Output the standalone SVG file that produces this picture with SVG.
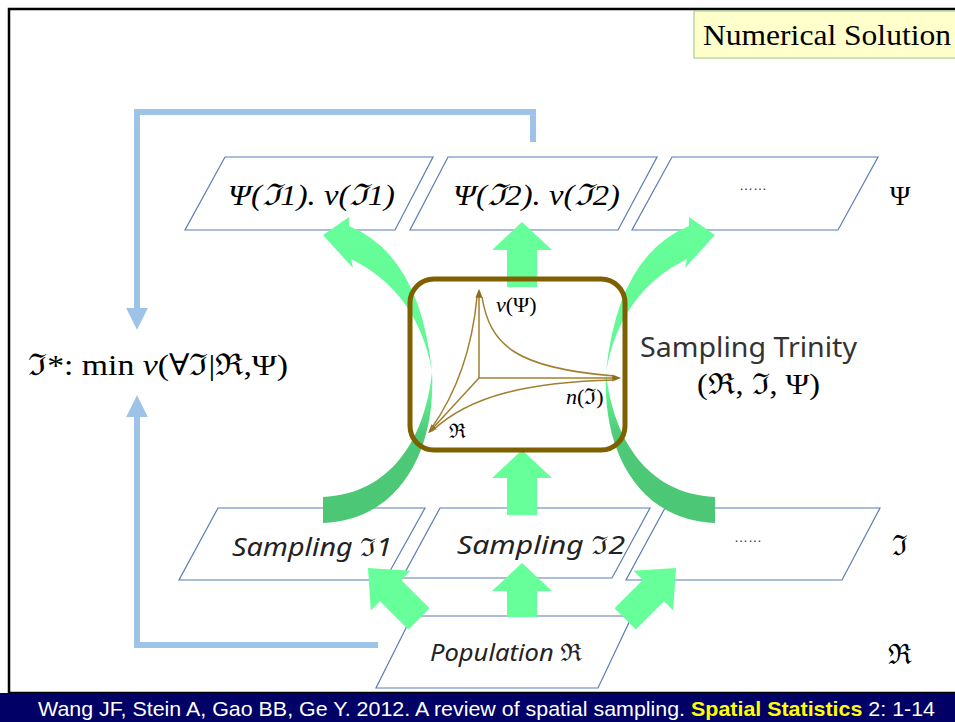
<svg xmlns="http://www.w3.org/2000/svg" width="955" height="722" viewBox="0 0 955 722">
<defs>
<style>
.pg{fill:#fff;stroke:#5A7DB5;stroke-width:1.2}
.blue{fill:none;stroke:#9DC3E6;stroke-width:6}
.grn{fill:#66FF99}
.ser{font-family:"Liberation Serif","DejaVu Serif",serif;fill:#000}
.sans{font-family:"Noto Sans","Open Sans","DejaVu Sans",sans-serif}
.ax{fill:none;stroke:#A07F2F;stroke-width:1.5}
.dots{font-family:"Liberation Sans",sans-serif;font-size:14px;fill:#333}
</style>
<marker id="bh" markerUnits="userSpaceOnUse" viewBox="0 0 20 20" markerWidth="22" markerHeight="22" refX="2" refY="10" orient="auto">
<path d="M0,0 L20,10 L0,20 Z" fill="#9DC3E6"/>
</marker>
<marker id="ah" markerUnits="userSpaceOnUse" viewBox="0 0 10 10" markerWidth="9" markerHeight="9" refX="2" refY="5" orient="auto">
<path d="M0,1 L10,5 L0,9 Z" fill="#8C6A1E"/>
</marker>
<linearGradient id="cg" gradientUnits="userSpaceOnUse" x1="0" y1="225" x2="0" y2="525">
<stop offset="0" stop-color="#66FF99"/>
<stop offset="0.55" stop-color="#62F594"/>
<stop offset="0.7" stop-color="#4DC978"/>
<stop offset="1" stop-color="#4CC776"/>
</linearGradient>
<path id="curv" d="M349,226 Q420,255 432,372 C436,450 400,520 323,523 L323,497 C390,494 425,440 432,372 Q418,292 351,259 L353,268 L323,235 L349,217 Z"/>
<path id="sArr" d="M0,0 L30,28 L15,28 L15,65 L-15,65 L-15,28 L-30,28 Z"/>
<path id="sArrS" d="M0,0 L30,28 L15,28 L15,54 L-15,54 L-15,28 L-30,28 Z"/>
<path id="dArr" d="M0,0 L28,32 L15,32 L15,72 L-15,72 L-15,32 L-28,32 Z"/>
</defs>

<rect x="0" y="0" width="955" height="722" fill="#fff"/>
<rect x="9" y="9" width="960" height="684" fill="none" stroke="#000" stroke-width="2.5"/>

<g id="numerical-solution">
<rect x="694" y="11" width="270" height="47" fill="#FFFFCC" stroke="#A9D18E" stroke-width="1.2"/>
<text class="ser" x="703" y="45" font-size="30" textLength="248" lengthAdjust="spacingAndGlyphs">Numerical Solution</text>
</g>

<g id="connectors">
<path class="blue" d="M533,142 V112 H137 V310" marker-end="url(#bh)"/>
<path class="blue" d="M378,645 H137 V415" marker-end="url(#bh)"/>
</g>

<g id="psi-row">
<g id="psi1"><polygon class="pg" points="225,157 433,157 395,230 185,230"/>
<text class="ser" x="228" y="205" font-size="30" font-style="italic" textLength="167" lengthAdjust="spacingAndGlyphs">Ψ(ℑ1). ν(ℑ1)</text></g>
<g id="psi2"><polygon class="pg" points="448,157 657,157 618,230 410,230"/>
<text class="ser" x="453" y="205" font-size="30" font-style="italic" textLength="167" lengthAdjust="spacingAndGlyphs">Ψ(ℑ2). ν(ℑ2)</text></g>
<g id="psi3"><polygon class="pg" points="672,157 878,157 838,230 632,230"/>
<text class="dots" x="753" y="190" text-anchor="middle">……</text></g>
<text class="ser" x="900" y="205" font-size="28" text-anchor="middle">Ψ</text>
</g>

<g id="sampling-row">
<g id="samp1"><polygon class="pg" points="218,508 425,508 385,580 179,580"/>
<text class="sans" x="232" y="556" font-size="25" font-style="italic" fill="#222" textLength="160" lengthAdjust="spacingAndGlyphs">Sampling ℑ1</text></g>
<g id="samp2"><polygon class="pg" points="440,508 650,508 612,578 402,578"/>
<text class="sans" x="457" y="554" font-size="25" font-style="italic" fill="#222" textLength="168" lengthAdjust="spacingAndGlyphs">Sampling ℑ2</text></g>
<g id="samp3"><polygon class="pg" points="665,508 880,508 842,580 626,580"/>
<text class="dots" x="748" y="542" text-anchor="middle">……</text></g>
<text class="ser" x="900" y="555" font-size="28" text-anchor="middle">ℑ</text>
</g>

<g id="population">
<polygon class="pg" points="412,616 632,616 598,688 376,688"/>
<text class="sans" x="430" y="661" font-size="24" font-style="italic" fill="#222" textLength="152" lengthAdjust="spacingAndGlyphs">Population ℜ</text>
<text class="ser" x="900" y="664" font-size="28" text-anchor="middle">ℜ</text>
</g>

<g id="green-arrows">
<use href="#curv" fill="url(#cg)"/>
<use href="#curv" fill="url(#cg)" transform="translate(1038,0) scale(-1,1)"/>
<use href="#sArr" class="grn" transform="translate(522,222)"/>
<use href="#sArr" class="grn" transform="translate(522,450)"/>
<use href="#sArrS" class="grn" transform="translate(522,563)"/>
<use href="#dArr" class="grn" transform="translate(368,568) rotate(-45)"/>
<use href="#dArr" class="grn" transform="translate(676,568) rotate(45)"/>
</g>

<g id="trinity">
<rect x="410" y="279" width="215" height="171" rx="24" fill="none" stroke="#7F6000" stroke-width="5"/>
<path class="ax" d="M479,378 V296" marker-end="url(#ah)"/>
<path class="ax" d="M479,378 H614" marker-end="url(#ah)"/>
<path class="ax" d="M479,378 L433,428" marker-end="url(#ah)" stroke-width="2.2"/>
<path class="ax" d="M482,297 C490,345 515,368 614,376"/>
<path class="ax" d="M477,297 C472,350 455,395 431,429"/>
<path class="ax" d="M614,380 C530,382 470,395 432,431"/>
<text class="ser" x="496" y="312" font-size="22"><tspan font-style="italic">ν</tspan>(Ψ)</text>
<text class="ser" x="566" y="404" font-size="22"><tspan font-style="italic">n</tspan>(ℑ)</text>
<text class="ser" x="449" y="438" font-size="20">ℜ</text>
</g>

<g id="trinity-label">
<text class="sans" x="640" y="357" font-size="28" fill="#333" textLength="217" lengthAdjust="spacingAndGlyphs">Sampling Trinity</text>
<text class="ser" x="697" y="394" font-size="29" textLength="123" lengthAdjust="spacingAndGlyphs">(ℜ, ℑ, Ψ)</text>
</g>

<g id="objective">
<text class="ser" x="28" y="375" font-size="30" textLength="260" lengthAdjust="spacingAndGlyphs">ℑ*: min <tspan font-style="italic">ν</tspan>(∀ℑ|ℜ,Ψ)</text>
</g>

<g id="footer">
<rect x="0" y="693" width="955" height="29" fill="#000066"/>
<text x="38" y="716" font-family="Liberation Sans, Arial, sans-serif" font-size="21" fill="#fff" textLength="897" lengthAdjust="spacingAndGlyphs">Wang JF, Stein A, Gao BB, Ge Y. 2012. A review of spatial sampling. <tspan font-weight="bold" fill="#FFFF00">Spatial Statistics</tspan> 2: 1-14</text>
</g>
</svg>
